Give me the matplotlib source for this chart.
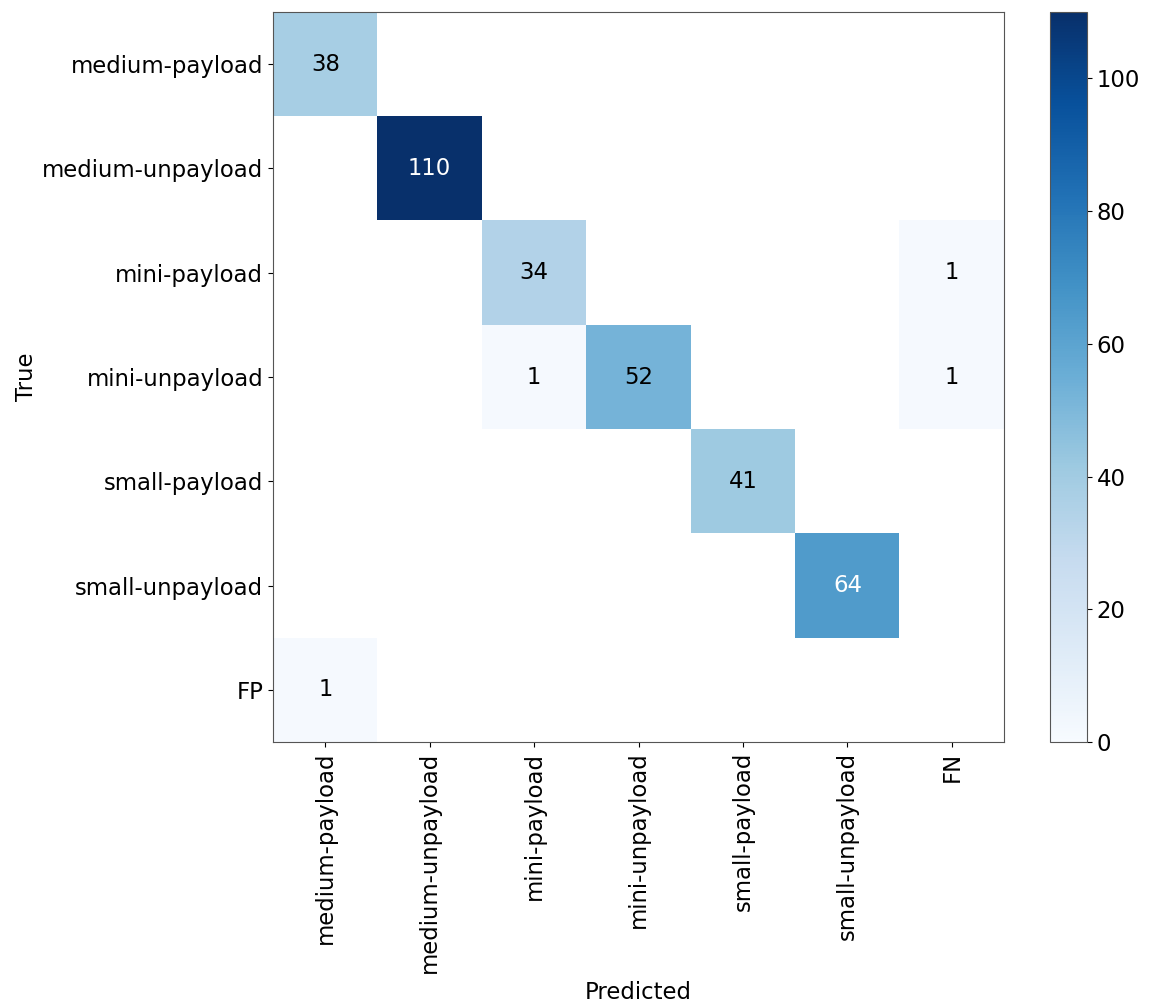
import matplotlib.pyplot as plt
import numpy as np

labels = ['medium-payload', 'medium-unpayload', 'mini-payload', 'mini-unpayload',
          'small-payload', 'small-unpayload']
row_labels = labels + ['FP']
col_labels = labels + ['FN']

# rows = true class, cols = predicted class
cm = np.array([
    [38, 0, 0, 0, 0, 0, 0],
    [0, 110, 0, 0, 0, 0, 0],
    [0, 0, 34, 0, 0, 0, 1],
    [0, 0, 1, 52, 0, 0, 1],
    [0, 0, 0, 0, 41, 0, 0],
    [0, 0, 0, 0, 0, 64, 0],
    [1, 0, 0, 0, 0, 0, 0],
])

plt.rcParams['font.size'] = 16.4

fig = plt.figure(figsize=(11.55, 10.05), dpi=100)
ax = fig.add_axes([0.2364, 0.2617, 0.6329, 0.7263])
cax = fig.add_axes([0.909, 0.2617, 0.032, 0.7263])

shown = np.ma.masked_where(cm == 0, cm)
im = ax.imshow(shown, cmap='Blues', vmin=0, vmax=cm.max(), aspect='auto')

thresh = (cm.max() + cm.min()) / 2
for i in range(cm.shape[0]):
    for j in range(cm.shape[1]):
        if cm[i, j] > 0:
            ax.text(j, i, str(cm[i, j]), ha='center', va='center',
                    color='white' if cm[i, j] > thresh else 'black')

ax.set_xticks(range(len(col_labels)))
ax.set_xticklabels(col_labels, rotation=90)
ax.set_yticks(range(len(row_labels)))
ax.set_yticklabels(row_labels)
ax.set_xlabel('Predicted', labelpad=6)
ax.set_ylabel('True', labelpad=3)
for s in ax.spines.values():
    s.set_edgecolor('#555555')

cb = fig.colorbar(im, cax=cax)
cb.outline.set_edgecolor('#555555')

plt.savefig('out.png', dpi=100)
